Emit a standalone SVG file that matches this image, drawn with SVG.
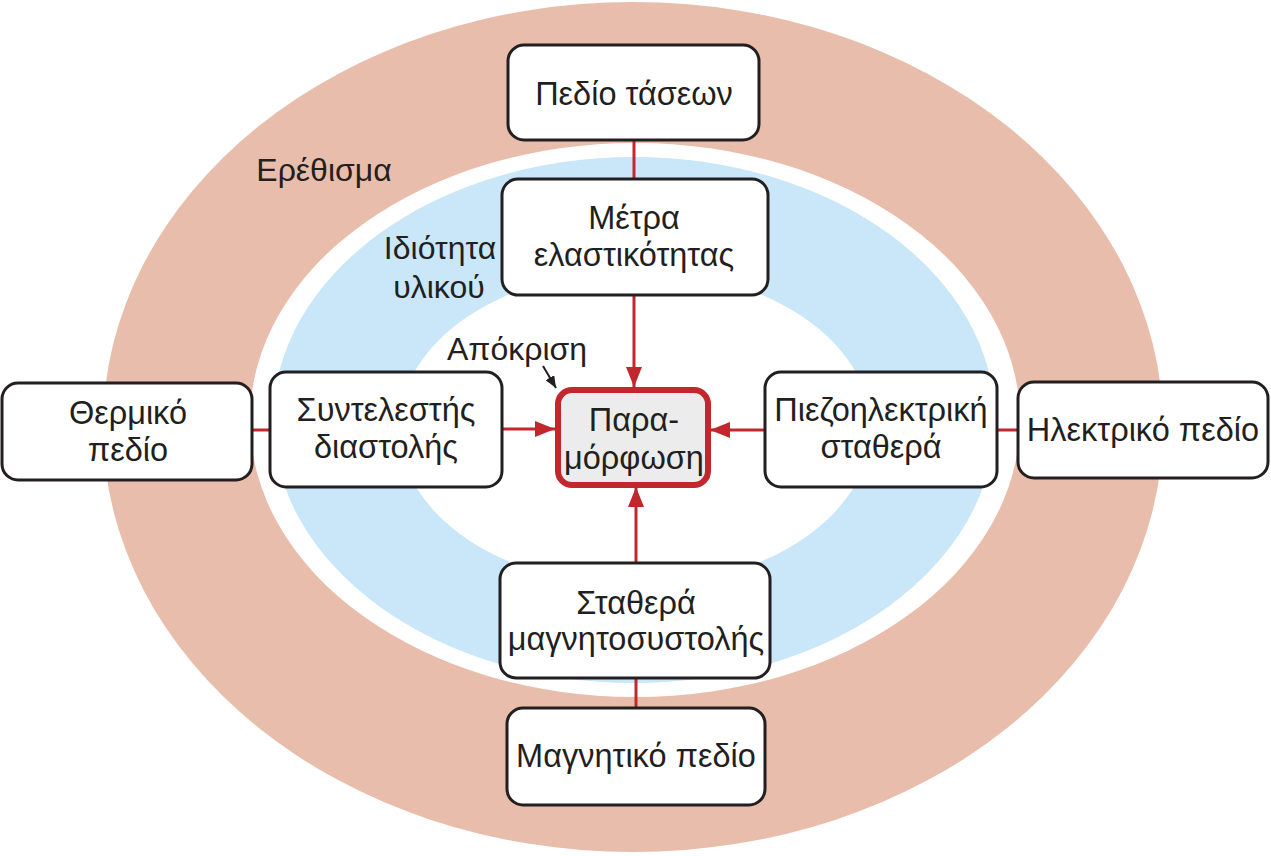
<svg xmlns="http://www.w3.org/2000/svg" width="1271" height="856" viewBox="0 0 1271 856">
<style>
.box{fill:#ffffff;stroke:#231f20;stroke-width:3}
.t{font-family:"Liberation Sans",Arial,sans-serif;font-size:32.5px;fill:#231f20;text-anchor:middle}
.lbl{font-family:"Liberation Sans",Arial,sans-serif;font-size:32px;fill:#231f20;text-anchor:middle}
.con{stroke:#c1272d;stroke-width:3;fill:none}
</style>
<defs>
<marker id="ar" viewBox="0 0 20 16" refX="20" refY="8" markerWidth="20" markerHeight="16" markerUnits="userSpaceOnUse" orient="auto">
<path d="M0,0 L20,8 L0,16 Z" fill="#c1272d"/>
</marker>
<marker id="ak" viewBox="0 0 12 10" refX="12" refY="5" markerWidth="12" markerHeight="10" markerUnits="userSpaceOnUse" orient="auto">
<path d="M0,0 L12,5 L0,10 Z" fill="#231f20"/>
</marker>
</defs>
<rect width="1271" height="856" fill="#ffffff"/>
<g id="rings">
<ellipse cx="633" cy="427" rx="530" ry="425" fill="#e8bdab"/>
<ellipse cx="635" cy="420" rx="385" ry="277" fill="#ffffff"/>
<ellipse cx="634" cy="420" rx="361" ry="263" fill="#c9e7f8"/>
<ellipse cx="635" cy="428" rx="236" ry="158" fill="#ffffff"/>
</g>
<g id="labels">
<text class="lbl" x="324" y="181">Ερέθισμα</text>
<text class="lbl" x="440" y="259">Ιδιότητα</text>
<text class="lbl" x="439" y="298">υλικού</text>
<text class="lbl" x="517" y="360">Απόκριση</text>
</g>
<g id="connectors">
<line class="con" x1="634" y1="140" x2="634" y2="179"/>
<line class="con" x1="634" y1="295" x2="634" y2="387" marker-end="url(#ar)"/>
<line class="con" x1="636" y1="708" x2="636" y2="678"/>
<line class="con" x1="636" y1="563" x2="636" y2="487" marker-end="url(#ar)"/>
<line class="con" x1="252" y1="430" x2="270" y2="430"/>
<line class="con" x1="502" y1="429" x2="555" y2="429" marker-end="url(#ar)"/>
<line class="con" x1="1018" y1="430" x2="997" y2="430"/>
<line class="con" x1="765" y1="430" x2="710" y2="430" marker-end="url(#ar)"/>
<line x1="543" y1="366" x2="556" y2="388" stroke="#231f20" stroke-width="2" marker-end="url(#ak)"/>
</g>
<g id="n-pedio-taseon">
<rect class="box" x="508" y="45" width="251" height="95" rx="16"/>
<text class="t" x="634" y="105">Πεδίο τάσεων</text>
</g>
<g id="n-metra">
<rect class="box" x="502" y="179" width="266" height="116" rx="16"/>
<text class="t" x="634" y="229">Μέτρα</text>
<text class="t" x="634" y="266">ελαστικότητας</text>
</g>
<g id="n-thermiko">
<rect class="box" x="2" y="383" width="250" height="97" rx="16"/>
<text class="t" x="128" y="424">Θερμικό</text>
<text class="t" x="128" y="461">πεδίο</text>
</g>
<g id="n-syntelestis">
<rect class="box" x="270" y="372" width="232" height="115" rx="16"/>
<text class="t" x="386" y="421">Συντελεστής</text>
<text class="t" x="386" y="458">διαστολής</text>
</g>
<g id="n-paramorfosi">
<rect x="558" y="390" width="150" height="95" rx="14" fill="#ececec" stroke="#c1272d" stroke-width="6"/>
<text class="t" x="634" y="431">Παρα-</text>
<text class="t" x="634" y="469">μόρφωση</text>
</g>
<g id="n-piezo">
<rect class="box" x="765" y="372" width="232" height="115" rx="16"/>
<text class="t" x="881" y="421">Πιεζοηλεκτρική</text>
<text class="t" x="881" y="458">σταθερά</text>
</g>
<g id="n-ilektriko">
<rect class="box" x="1018" y="382" width="250" height="96" rx="16"/>
<text class="t" x="1143" y="441">Ηλεκτρικό πεδίο</text>
</g>
<g id="n-stathera">
<rect class="box" x="500" y="563" width="270" height="115" rx="16"/>
<text class="t" x="636" y="614">Σταθερά</text>
<text class="t" x="636" y="650">μαγνητοσυστολής</text>
</g>
<g id="n-magnitiko">
<rect class="box" x="507" y="708" width="258" height="97" rx="16"/>
<text class="t" x="636" y="767">Μαγνητικό πεδίο</text>
</g>
</svg>
